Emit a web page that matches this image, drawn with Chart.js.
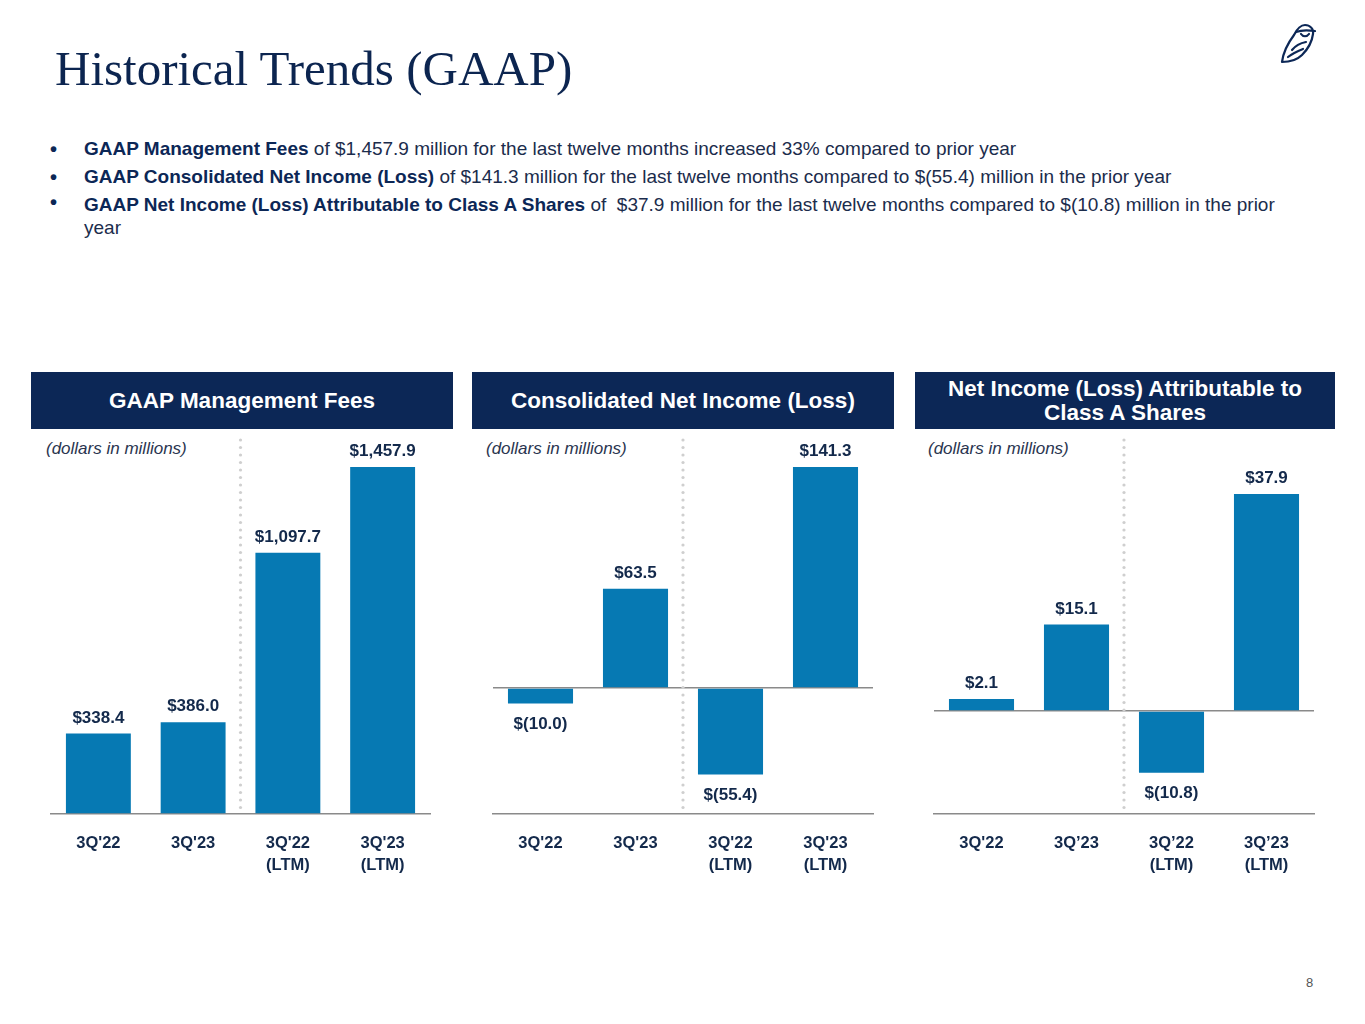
<!DOCTYPE html>
<html>
<head>
<meta charset="utf-8">
<script src="https://cdn.jsdelivr.net/npm/chart.js@4"></script>
<style>
  body { margin: 0; background: #fff; font-family: "Liberation Sans", Arial, sans-serif; }
  #page { position: relative; width: 1365px; height: 1024px; overflow: hidden; }
  .abs { position: absolute; }
  #title { left: 55px; top: 40px; font-family: "Liberation Serif", serif; font-size: 49px; color: #0c2550; white-space: nowrap; }
  .bullets { left: 50px; top: 135px; width: 1240px; font-size: 19px; color: #1b2c4c; line-height: 28px; }
  .bullets div { position: relative; padding-left: 34px; }
  .bullets div::before { content: "\2022"; position: absolute; left: 0; top: 0; font-weight: bold; font-size: 20px; color: #0c2756; }
  .bullets div.wrap { line-height: 23px; padding-top: 2px; }
  .bullets b { color: #0c2756; }
  .hdr { top: 372px; height: 57px; background: #0c2756; color: #fff; font-weight: bold; font-size: 22.5px;
         display: flex; align-items: center; justify-content: center; text-align: center; line-height: 24px; }
  .unit { top: 439px; font-style: italic; font-size: 17px; color: #2a3550; }
  canvas { position: absolute; }
  #pg { left: 1306px; top: 975px; font-size: 13px; color: #555; }
</style>
</head>
<body>
<div id="page">
  <div id="title" class="abs">Historical Trends (GAAP)</div>
  <svg class="abs" style="left:1276px;top:20px" width="44" height="46" viewBox="0 0 44 46" fill="none" stroke="#0c2756" stroke-width="2.2" stroke-linecap="round" stroke-linejoin="round">
    <path d="M29 5 C34 5 38 9 37 14 C36 22 32 29 26 35 C21 40 14 42 6 42 C7 34 12 23 18 15 C21 9 25 5 29 5 Z"/>
    <path d="M20 12 C25 10 32 10 39 11"/>
    <path d="M25 14 C27 17 31 17 33 14"/>
    <path d="M16 30 C20 25 25 23 30 22"/>
    <path d="M12 37 C17 33 22 31 27 29"/>
  </svg>

  <div class="abs bullets">
    <div><b>GAAP Management Fees</b> of $1,457.9 million for the last twelve months increased 33% compared to prior year</div>
    <div><b>GAAP Consolidated Net Income (Loss)</b> of $141.3 million for the last twelve months compared to $(55.4) million in the prior year</div>
    <div class="wrap"><b>GAAP Net Income (Loss) Attributable to Class A Shares</b> of &nbsp;$37.9 million for the last twelve months compared to $(10.8) million in the prior year</div>
  </div>

  <div class="abs hdr" style="left:31px;width:422px">GAAP Management Fees</div>
  <div class="abs hdr" style="left:472px;width:422px">Consolidated Net Income (Loss)</div>
  <div class="abs hdr" style="left:915px;width:420px">Net Income (Loss) Attributable to<br>Class A Shares</div>

  <div class="abs unit" style="left:46px">(dollars in millions)</div>
  <div class="abs unit" style="left:486px">(dollars in millions)</div>
  <div class="abs unit" style="left:928px">(dollars in millions)</div>

  <canvas id="c1" style="left:31px;top:437px" width="422" height="443"></canvas>
  <canvas id="c2" style="left:472px;top:437px" width="422" height="443"></canvas>
  <canvas id="c3" style="left:915px;top:437px" width="420" height="443"></canvas>

  <div id="pg" class="abs">8</div>
</div>

<script>
// data
const labelsA = ["3Q'22", "3Q'23", ["3Q'22", "(LTM)"], ["3Q'23", "(LTM)"]];
const labelsB = ["3Q'22", "3Q\u201923", ["3Q\u201922", "(LTM)"], ["3Q\u201923", "(LTM)"]];
const mgmtFees = [338.4, 386.0, 1097.7, 1457.9];
const netIncome = [-10.0, 63.5, -55.4, 141.3];
const classAIncome = [2.1, 15.1, -10.8, 37.9];

const BAR = '#0679b3';
const NAVY = '#13294b';

function fmt(v) {
  const s = Math.abs(v).toLocaleString('en-US', { minimumFractionDigits: 1, maximumFractionDigits: 1 });
  return v < 0 ? '$(' + s + ')' : '$' + s;
}

// value labels + dotted separator
const extras = {
  id: 'extras',
  beforeDatasetsDraw(chart) {
    const ctx = chart.ctx;
    const x = chart.scales.x;
    const sx = (x.getPixelForValue(1) + x.getPixelForValue(2)) / 2;
    ctx.save();
    ctx.fillStyle = '#cfcfcf';
    for (let y = 3; y < chart.chartArea.bottom; y += 7.5) {
      ctx.beginPath();
      ctx.arc(sx, y, 1.6, 0, Math.PI * 2);
      ctx.fill();
    }
    ctx.restore();
  },
  afterDatasetsDraw(chart) {
    const ctx = chart.ctx;
    const meta = chart.getDatasetMeta(0);
    const data = chart.data.datasets[0].data;
    ctx.save();
    ctx.font = 'bold 17px "Liberation Sans", Arial, sans-serif';
    ctx.fillStyle = NAVY;
    ctx.textAlign = 'center';
    meta.data.forEach((bar, i) => {
      const v = data[i];
      if (v >= 0) {
        ctx.textBaseline = 'bottom';
        ctx.fillText(fmt(v), bar.x, bar.y - 7);
      } else {
        ctx.textBaseline = 'top';
        ctx.fillText(fmt(v), bar.x, bar.y + 12);
      }
    });
    ctx.restore();
  }
};

function makeChart(id, labels, values, yMin, yMax, padL, padR, zeroLine) {
  return new Chart(document.getElementById(id), {
    type: 'bar',
    data: {
      labels: labels,
      datasets: [{ data: values, backgroundColor: BAR, barPercentage: 0.685, categoryPercentage: 1 }]
    },
    options: {
      responsive: false,
      animation: false,
      layout: { padding: { top: 30, left: padL, right: padR, bottom: 0 } },
      plugins: { legend: { display: false }, tooltip: { enabled: false } },
      scales: {
        x: {
          grid: { display: false },
          border: { display: true, color: '#8a8a8a', width: 1.5 },
          ticks: {
            color: NAVY,
            font: { family: '"Liberation Sans", Arial, sans-serif', size: 16.5, weight: 'bold', lineHeight: 1.3 },
            padding: 11,
            maxRotation: 0,
            autoSkip: false
          },
          afterFit: s => { s.height = 66; }
        },
        y: {
          min: yMin,
          max: yMax,
          ticks: { display: false },
          border: { display: false },
          grid: {
            drawTicks: false,
            color: ctx => (zeroLine && ctx.tick && ctx.tick.value === 0) ? '#8a8a8a' : 'rgba(0,0,0,0)',
            lineWidth: 1.5
          },
          afterBuildTicks: s => { s.ticks = [{ value: 0 }]; },
          afterFit: s => { s.width = 0; }
        }
      }
    },
    plugins: [extras]
  });
}

makeChart('c1', labelsA, mgmtFees, 0, 1457.9, 20, 23, false);
makeChart('c2', labelsA, netIncome, -80.6, 141.3, 21, 21, true);
makeChart('c3', labelsB, classAIncome, -18.0, 42.6, 19, 21, true);
</script>
</body>
</html>
